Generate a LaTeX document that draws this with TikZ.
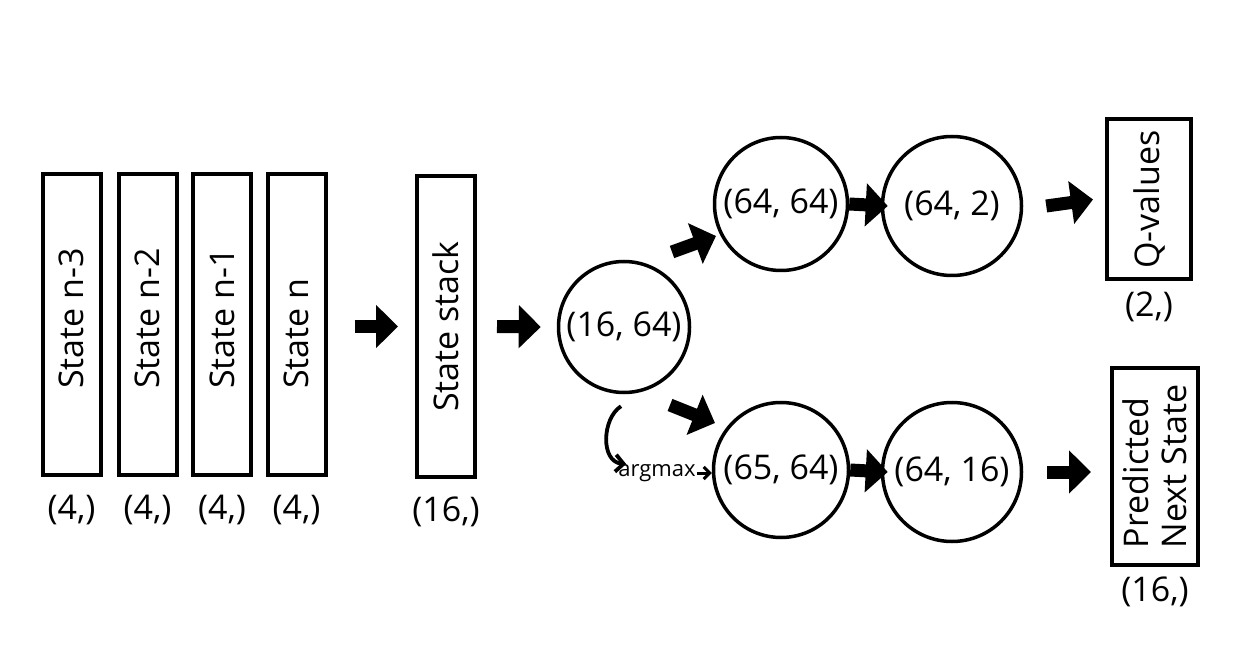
\documentclass[tikz,border=0pt]{standalone}
\usepackage{fontspec}
\setmainfont{Open Sans}
\usetikzlibrary{arrows.meta,calc}
\begin{document}
\begin{tikzpicture}[x=1pt,y=-1pt,
  txt/.style={font=\fontsize{34}{40}\selectfont, inner sep=0pt},
  statebox/.style={draw, line width=4pt, minimum width=58pt, minimum height=301pt, inner sep=0pt},
  outbox/.style={draw, line width=4pt, inner sep=0pt},
  layer/.style={draw, circle, line width=3.5pt, inner sep=0pt, font=\fontsize{34}{40}\selectfont},
  blk/.style={line width=13pt, -{Triangle[length=22pt,width=42pt]}},
  curvarr/.style={line width=3.8pt, -{Straight Barb[length=8pt,width=17pt]}},
  smallarr/.style={line width=3pt, -{Straight Barb[length=6pt,width=12pt]}},
]
\fill[white] (0,0) rectangle (1256,652);
\useasboundingbox (0,0) rectangle (1256,652);

% the four input states
\node[statebox] (s3) at (71.5,324.5) {};
\node[statebox] (s2) at (147.5,324.5) {};
\node[statebox] (s1) at (222,324.5) {};
\node[statebox] (s0) at (296.5,324.5) {};
\foreach \b/\t in {s3/State n-3, s2/State n-2, s1/State n-1, s0/State n}{
  \node[txt, rotate=90, anchor=west] (\b-t) at ([yshift=88pt]\b.south) {\t};
  \node[txt] (\b-d) at ([yshift=-33pt]\b.south) {(4,)};
}

% stacked state
\node[statebox] (stk) at (446,326.5) {};
\node[txt, rotate=90] (stk-t) at (stk) {State stack};
\node[txt] (stk-d) at ([yshift=-33pt]stk.south) {(16,)};

% layers
\node[layer, minimum size=131pt] (c16) at (624,327) {(16, 64)};
\node[layer, minimum size=133pt] (ua) at (781,204) {(64, 64)};
\node[layer, minimum size=139pt] (ub) at (952,206) {(64, 2)};
\node[layer, minimum size=135pt] (la) at (781,470) {(65, 64)};
\node[layer, minimum size=139pt] (lb) at (952,472) {(64, 16)};

% outputs
\node[outbox, minimum width=84pt, minimum height=160pt] (q) at (1149,199.5) {};
\node[txt, rotate=90] (q-t) at (q) {Q-values};
\node[txt] (q-d) at ([yshift=-25pt]q.south) {(2,)};
\node[outbox, minimum width=86pt, minimum height=197pt] (p) at (1155,466.5) {};
\node[txt, rotate=90, align=left, font=\fontsize{34}{38}\selectfont] (p-t) at (p) {Predicted\\Next State};
\node[txt] (p-d) at ([yshift=-25pt]p.south) {(16,)};

% block arrows
\draw[blk] ($(s0.east |- stk.center)+(27,0)$) -- ($(stk.west)+(-17,0)$);
\draw[blk] ($(stk.east)+(20,0)$) -- ($(c16.west)+(-16,0)$);
\draw[blk] ($(c16.center)+(48,-75)$) -- ($(ua.center)+(-65,32)$);
\draw[blk] ($(c16.center)+(46,78)$) -- ($(la.center)+(-66,-47)$);
\draw[blk] (ua.east) -- ($(ub.west)+(7,0)$);
\draw[blk] ($(ub.east)+(23,0)$) -- ($(q.west)+(-12,0)$);
\draw[blk] (la.east) -- ($(lb.west)+(7,0)$);
\draw[blk] ($(lb.east)+(24,0)$) -- ($(lb.east -| p.west)+(-19,0)$);

% argmax feedback
\node[font=\fontsize{22}{26}\selectfont, inner sep=0pt] (am) at (657,473) {argmax};
\draw[curvarr] ($(c16.south)+(-3,12)$) .. controls ($(c16.south)+(-22,24)$) and ($(am.west)+(-18,-11)$) .. ($(am.west)+(8,-9)$);
\draw[smallarr] ($(am.east)+(1,0)$) -- (am.east -| la.west);
\end{tikzpicture}
\end{document}
